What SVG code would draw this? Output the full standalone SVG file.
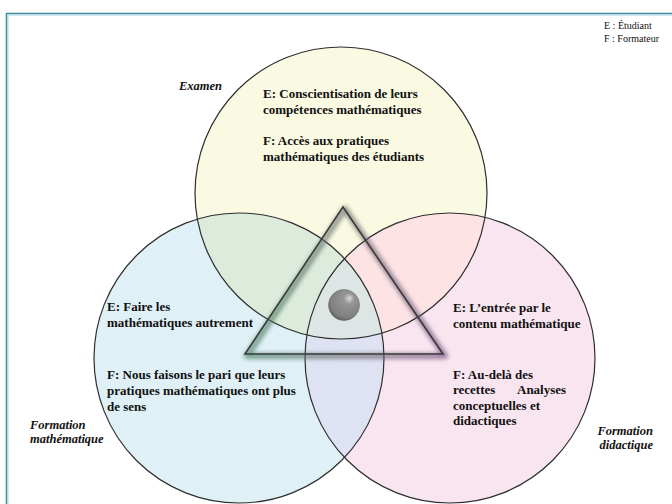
<svg xmlns="http://www.w3.org/2000/svg" width="672" height="504" viewBox="0 0 672 504">
<style>
.lbl{font-family:'Liberation Serif','Times New Roman','DejaVu Serif',serif;font-weight:700;font-size:13px;fill:#111}
.ttl{font-family:'Liberation Serif','Times New Roman','DejaVu Serif',serif;font-weight:700;font-style:italic;font-size:12.5px;fill:#111}
.leg{font-family:'Liberation Serif','Times New Roman','DejaVu Serif',serif;font-size:10px;fill:#111}
.ring{fill:none;stroke:#2e2e2e;stroke-width:1.2}
</style>
<defs>
<clipPath id="cTop"><circle cx="341" cy="193" r="146"/></clipPath>
<clipPath id="cLeft"><circle cx="239" cy="358" r="145"/></clipPath>
<radialGradient id="ball" cx="0.6" cy="0.35" r="0.7" fx="0.68" fy="0.28">
<stop offset="0" stop-color="#d8d8d8"/>
<stop offset="0.25" stop-color="#959595"/>
<stop offset="0.8" stop-color="#808080"/>
<stop offset="1" stop-color="#5a5a5a"/>
</radialGradient>
<linearGradient id="shad" x1="245" y1="0" x2="443" y2="0" gradientUnits="userSpaceOnUse">
<stop offset="0" stop-color="#3f7a5a"/>
<stop offset="0.5" stop-color="#666"/>
<stop offset="1" stop-color="#6a4a7e"/>
</linearGradient>
<filter id="blur" x="-20%" y="-20%" width="140%" height="140%"><feGaussianBlur stdDeviation="2.2"/></filter>
</defs>
<rect x="0" y="0" width="672" height="504" fill="#fff"/>
<g id="frame">
<path d="M6.5 504 V13.5 H672" fill="none" stroke="#3a8d9c" stroke-width="1.5"/>
<path d="M8 504 V15 H672" fill="none" stroke="#a9d3dd" stroke-width="1"/>
</g>
<g id="fills">
<circle cx="341" cy="193" r="146" fill="#fafae3"/>
<circle cx="239" cy="358" r="145" fill="#dff0f6"/>
<circle cx="450" cy="358" r="145" fill="#f9e5ef"/>
<circle cx="239" cy="358" r="145" fill="#dcebdc" clip-path="url(#cTop)"/>
<circle cx="450" cy="358" r="145" fill="#fde3e4" clip-path="url(#cTop)"/>
<circle cx="450" cy="358" r="145" fill="#dfe2f3" clip-path="url(#cLeft)"/>
<g clip-path="url(#cTop)"><circle cx="450" cy="358" r="145" fill="#dde5e5" clip-path="url(#cLeft)"/></g>
</g>
<g id="node-examen">
<circle class="ring" cx="341" cy="193" r="146"/>
<text class="ttl" x="179" y="90">Examen</text>
<text class="lbl" x="263" y="98">E: Conscientisation de leurs</text>
<text class="lbl" x="263" y="114">compétences mathématiques</text>
<text class="lbl" x="263" y="145">F: Accès aux pratiques</text>
<text class="lbl" x="263" y="161">mathématiques des étudiants</text>
</g>
<g id="node-formation-mathematique">
<circle class="ring" cx="239" cy="358" r="145"/>
<text class="lbl" x="107" y="311">E: Faire les</text>
<text class="lbl" x="107" y="327">mathématiques autrement</text>
<text class="lbl" x="107" y="379">F: Nous faisons le pari que leurs</text>
<text class="lbl" x="107" y="395">pratiques mathématiques ont plus</text>
<text class="lbl" x="107" y="411">de sens</text>
<text class="ttl" x="30" y="429">Formation</text>
<text class="ttl" x="30" y="443">mathématique</text>
</g>
<g id="node-formation-didactique">
<circle class="ring" cx="450" cy="358" r="145"/>
<text class="lbl" x="453" y="312">E: L’entrée par le</text>
<text class="lbl" x="453" y="328">contenu mathématique</text>
<text class="lbl" x="453" y="379">F: Au-delà des</text>
<text class="lbl" y="394"><tspan x="453">recettes</tspan><tspan x="517">Analyses</tspan></text>
<text class="lbl" x="453" y="410">conceptuelles et</text>
<text class="lbl" x="453" y="425">didactiques</text>
<text class="ttl" x="653" y="435" text-anchor="end">Formation</text>
<text class="ttl" x="653" y="449" text-anchor="end">didactique</text>
</g>
<g id="node-center">
<polygon points="343,207 245,354 443,354" fill="none" stroke="url(#shad)" stroke-width="6" stroke-linejoin="round" opacity="0.65" filter="url(#blur)" transform="translate(2,2)"/>
<polygon points="343,207 245,354 443,354" fill="none" stroke="#3a3a3a" stroke-width="1.6" stroke-linejoin="miter"/>
<circle cx="344" cy="305" r="15.5" fill="url(#ball)" stroke="#6d6d6d" stroke-width="0.6"/>
</g>
<g id="legend">
<text class="leg" x="604" y="29">E : Étudiant</text>
<text class="leg" x="604" y="42">F : Formateur</text>
</g>
<g id="connectors"></g>
</svg>
